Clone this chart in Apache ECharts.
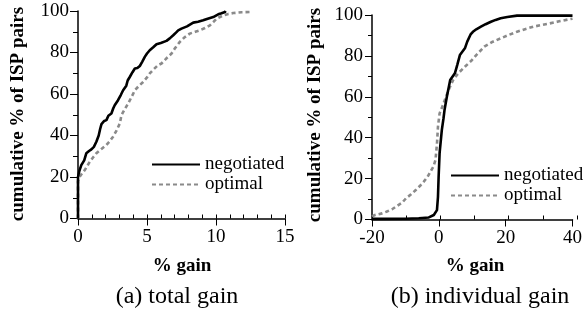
<!DOCTYPE html>
<html>
<head>
<meta charset="utf-8">
<script src="https://cdn.jsdelivr.net/npm/echarts@6/dist/echarts.min.js"></script>
<style>
html,body{margin:0;padding:0;background:#fff;}
#c{width:585px;height:311px;}
</style>
</head>
<body>
<div id="c"></div>
<script>
// ---- Data ----
const seriesNames = ['negotiated', 'optimal'];
const xTicksA = [0, 5, 10, 15];
const xTicksB = [-20, 0, 20, 40];
const yTicks = [0, 20, 40, 60, 80, 100];

const totalNegotiated = [
  [0,0],[0,20],[0.1,23],[0.24,25.7],[0.45,28],[0.6,31.4],[0.8,32.5],[0.97,33.3],[1.15,34.5],[1.33,37],
  [1.5,40],[1.6,43],[1.7,45.5],[1.9,47],[2.06,47.4],[2.2,49.5],[2.42,50.6],[2.55,53],[2.66,54.6],[2.9,57],
  [3.1,59.5],[3.27,61.8],[3.5,64],[3.6,66.5],[3.75,68.2],[3.95,70.5],[4.12,72.3],[4.3,72.5],[4.48,73.5],
  [4.65,75.5],[4.84,77.9],[5.0,79.5],[5.2,81.1],[5.45,82.5],[5.69,84],[6.0,84.6],[6.41,85.6],[6.65,86.8],
  [6.9,88.3],[7.1,89.6],[7.26,90.7],[7.5,91.5],[7.9,92.6],[8.35,94.4],[8.7,94.8],[9.07,95.5],[9.4,96.3],
  [9.8,97.1],[10.16,98.4],[10.4,98.9],[10.65,99.5],[10.7,100]
];
const totalOptimal = [
  [0,0],[0,18],[0.12,20.1],[0.3,21.8],[0.49,23.3],[0.85,27.3],[1.1,29.5],[1.33,31.4],[1.7,33.5],[2.06,35.4],
  [2.3,37.2],[2.54,39.4],[2.8,42.5],[3.03,45.8],[3.15,49.8],[3.4,52.8],[3.63,55.4],[3.9,58.8],[4.12,61.8],
  [4.4,63.8],[4.72,65.8],[5.0,68],[5.2,69.9],[5.5,72],[5.8,73.9],[6.05,74.7],[6.41,77.2],[6.78,79.5],
  [7.02,82],[7.38,85.1],[7.7,87.2],[8.1,89.1],[8.5,90],[8.83,90.7],[9.2,91.8],[9.56,93.1],[9.8,94.6],
  [10.04,96.3],[10.52,97.9],[10.9,98.6],[11.25,99],[11.86,99.4],[12.46,99.5]
];
const indivNegotiated = [
  [-20,0.3],[-10,0.4],[-6,0.6],[-3,1],[-1.5,2.2],[-0.56,4.6],[-0.26,11],[-0.06,21],[0.23,32.4],[0.9,43.8],
  [1.4,49.5],[1.7,53.5],[2.4,60],[3.4,68.2],[4.8,71.5],[5.5,75.5],[6.3,80.4],[7.8,83.7],[8.5,87],[9.5,90.5],
  [10.2,91.8],[11.2,93],[12.6,94.3],[14,95.5],[15.6,96.7],[17,97.6],[18.5,98.4],[20.5,99],[23.4,99.7],
  [30,99.7],[40,99.7]
];
const indivOptimal = [
  [-20,1.5],[-19.1,2.2],[-17,3],[-15.7,3.8],[-14,5],[-12.8,6.3],[-11,8.2],[-9.8,10.4],[-8.3,12.3],[-6.9,14.4],
  [-5.6,16.5],[-4.5,18.5],[-3.4,20.8],[-2.5,23.4],[-1.6,26],[-1,29.1],[-0.55,37.3],[-0.26,45.4],[0.23,51.9],
  [1,55],[1.8,58.5],[2.9,63.3],[4.3,68.2],[5.8,71.5],[7.8,74.7],[9.7,77.6],[11.2,80.4],[13.6,84.5],[16,86.8],
  [18.5,88.6],[21,90.3],[23.4,91.8],[26,93.2],[28.3,94.3],[31,95.2],[33.2,95.9],[36,96.9],[39,97.9],[40,98.2]
];

// ---- Chart ----
const FONT = 'Liberation Serif';
const chart = echarts.init(document.getElementById('c'), null, {renderer: 'canvas'});

const gridA = {left: 78, top: 11, width: 207, height: 207.5, containLabel: false};
const gridB = {left: 372, top: 15, width: 205, height: 204.5, containLabel: false};

function mainX(gridIndex, ticks) {
  return {
    type: 'value', gridIndex, position: 'bottom',
    min: ticks[0], max: ticks[ticks.length - 1], interval: ticks[1] - ticks[0],
    axisLine: {show: true, onZero: false, lineStyle: {color: '#000', width: 1.5}},
    axisTick: {show: true, inside: false, length: 7, lineStyle: {color: '#000', width: 1}},
    axisLabel: {show: true, color: '#000', fontFamily: FONT, fontSize: 19, margin: 9},
    splitLine: {show: false}
  };
}
function minorX(gridIndex, ticks, step) {
  return {
    type: 'value', gridIndex, position: 'bottom',
    min: ticks[0], max: ticks[ticks.length - 1], interval: step,
    axisLine: {show: false, onZero: false},
    axisTick: {show: true, inside: true, length: 4, lineStyle: {color: '#000', width: 1}},
    axisLabel: {show: false},
    splitLine: {show: false}
  };
}
function mainY(gridIndex, tickLen, minorLen) {
  return {
    type: 'value', gridIndex, position: 'left',
    min: yTicks[0], max: yTicks[yTicks.length - 1], interval: yTicks[1] - yTicks[0],
    axisLine: {show: true, onZero: false, lineStyle: {color: '#000', width: 1.5}},
    axisTick: {show: true, inside: false, length: tickLen, lineStyle: {color: '#000', width: 1}},
    minorTick: {show: true, splitNumber: 2, length: minorLen, lineStyle: {color: '#000', width: 1}},
    axisLabel: {show: true, color: '#000', fontFamily: FONT, fontSize: 19, margin: 9},
    splitLine: {show: false}, minorSplitLine: {show: false}
  };
}
function hiddenY(gridIndex) {
  return {
    type: 'value', gridIndex, min: 0, max: 100, show: false,
    axisLine: {show: false}, axisTick: {show: false}, axisLabel: {show: false}, splitLine: {show: false}
  };
}

const solid = {color: '#000', width: 2.6, type: 'solid'};
const dashed = {color: '#8a8a8a', width: 2.6, type: [4, 3]};

function lineSeries(name, data, xi, yi, style) {
  return {
    name, type: 'line', data, xAxisIndex: xi, yAxisIndex: yi,
    showSymbol: false, symbol: 'none', smooth: false, animation: false,
    lineStyle: style, itemStyle: {color: style.color}, z: name === 'negotiated' ? 3 : 2
  };
}

const legendCommon = {
  orient: 'vertical', itemWidth: 48, itemHeight: 14, itemGap: 1,
  textStyle: {color: '#000', fontFamily: FONT, fontSize: 19},
  itemStyle: {opacity: 0, borderWidth: 0},
  data: seriesNames, selectedMode: false
};

chart.setOption({
  animation: false,
  backgroundColor: '#fff',
  grid: [gridA, gridB, Object.assign({}, gridA), Object.assign({}, gridB)],
  xAxis: [
    mainX(0, xTicksA),
    mainX(1, xTicksB),
    minorX(2, xTicksA, 1),
    minorX(3, xTicksB, 10)
  ],
  yAxis: [mainY(0, 8, 5), mainY(1, 7, 4), hiddenY(2), hiddenY(3)],
  legend: [
    Object.assign({left: 146, top: 150}, legendCommon),
    Object.assign({left: 445, top: 161}, legendCommon)
  ],
  series: [
    lineSeries('negotiated', totalNegotiated, 0, 0, solid),
    lineSeries('optimal', totalOptimal, 0, 0, dashed),
    lineSeries('negotiated', indivNegotiated, 1, 1, solid),
    lineSeries('optimal', indivOptimal, 1, 1, dashed)
  ],
  graphic: [
    {type: 'text', x: 18.5, y: 114, rotation: Math.PI / 2,
     style: {text: 'cumulative % of ISP pairs', fontFamily: FONT, fontWeight: 'bold', fontSize: 19, fill: '#000', align: 'center', verticalAlign: 'middle'}},
    {type: 'text', x: 315, y: 115, rotation: Math.PI / 2,
     style: {text: 'cumulative % of ISP pairs', fontFamily: FONT, fontWeight: 'bold', fontSize: 19, fill: '#000', align: 'center', verticalAlign: 'middle'}},
    {type: 'text', x: 182, y: 266,
     style: {text: '% gain', fontFamily: FONT, fontWeight: 'bold', fontSize: 19, fill: '#000', align: 'center', verticalAlign: 'middle'}},
    {type: 'text', x: 475, y: 266,
     style: {text: '% gain', fontFamily: FONT, fontWeight: 'bold', fontSize: 19, fill: '#000', align: 'center', verticalAlign: 'middle'}},
    {type: 'text', x: 177, y: 297,
     style: {text: '(a) total gain', fontFamily: FONT, fontSize: 24, fill: '#000', align: 'center', verticalAlign: 'middle'}},
    {type: 'text', x: 480, y: 297,
     style: {text: '(b) individual gain', fontFamily: FONT, fontSize: 24, fill: '#000', align: 'center', verticalAlign: 'middle'}}
  ]
});
</script>
</body>
</html>
